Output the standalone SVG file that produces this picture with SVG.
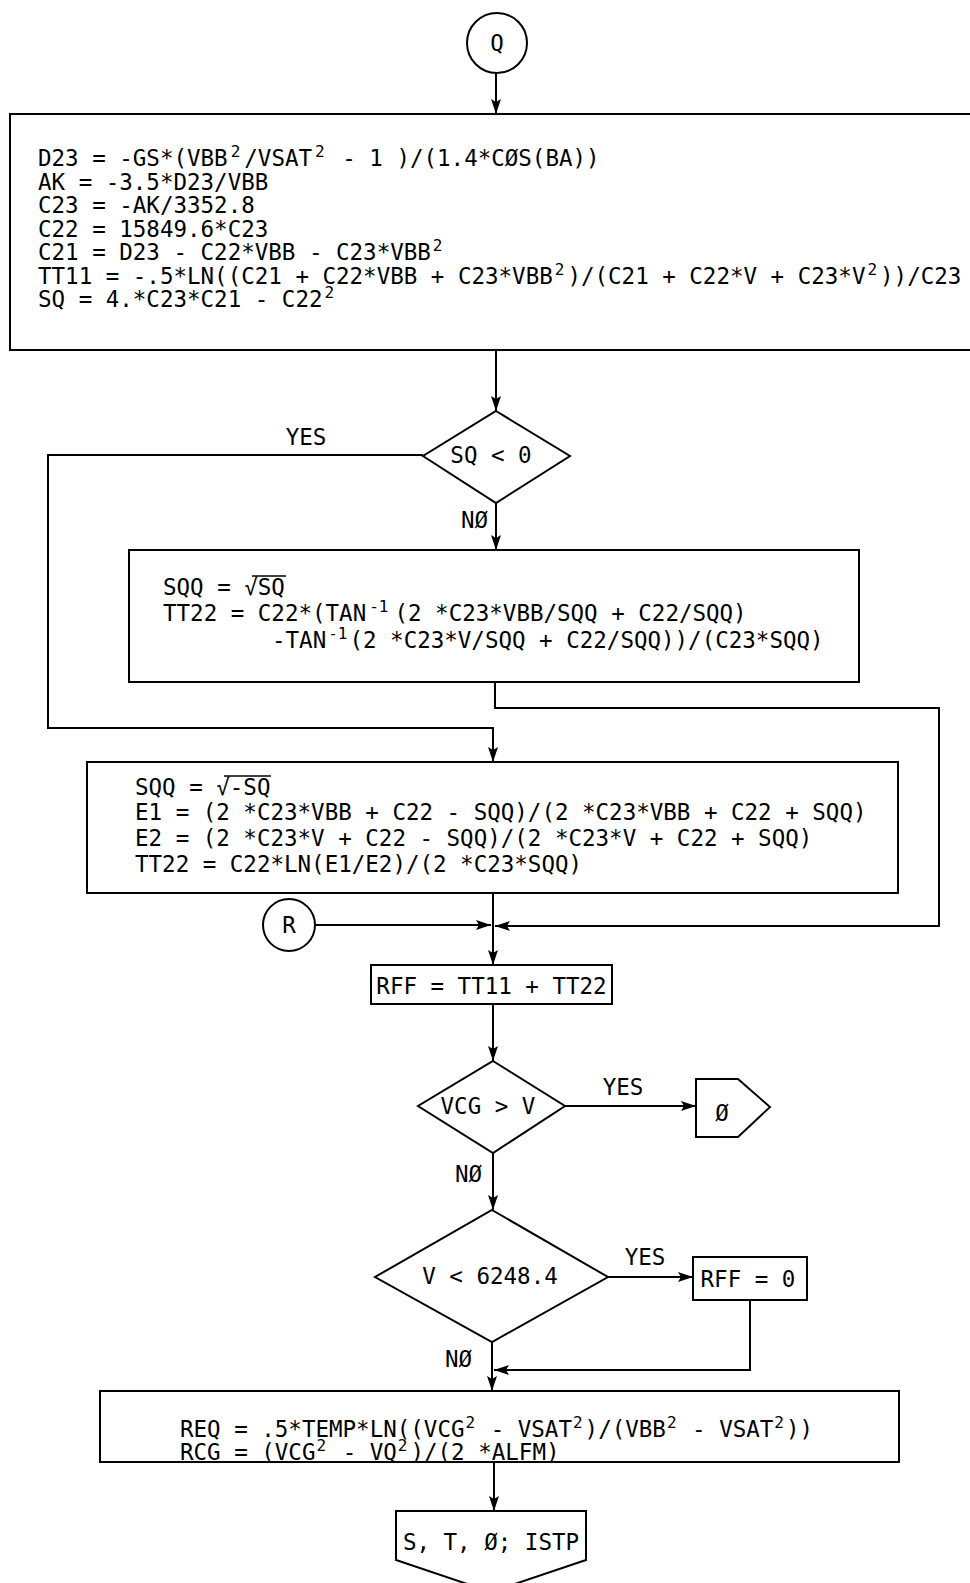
<svg xmlns="http://www.w3.org/2000/svg" width="970" height="1583" viewBox="0 0 970 1583">
<defs>
<style>
.sh{fill:#fff;stroke:#000;stroke-width:2}
.ln{fill:none;stroke:#000;stroke-width:2}
.ol{stroke:#000;stroke-width:1.6}
text{font-family:"DejaVu Sans Mono","Liberation Mono",monospace;font-size:22.5px;fill:#000;white-space:pre}
.s{font-size:16px}
.m{text-anchor:middle}
</style>
<marker id="ah" markerUnits="userSpaceOnUse" markerWidth="16" markerHeight="12" refX="15" refY="5" orient="auto">
<path d="M0,0 L15,5 L0,10 L3,5 z" fill="#000"/>
</marker>
</defs>
<rect width="970" height="1583" fill="#fff"/>

<g id="connectors" class="ln" marker-end="url(#ah)">
<path d="M496,73 V114"/>
<path d="M496,350 V411"/>
<path d="M423,455 H48 V728 H493 V762"/>
<path d="M496,503 V550"/>
<path d="M495,682 V708 H939 V926 H495"/>
<path d="M315,925 H491"/>
<path d="M493,893 V965"/>
<path d="M493,1004 V1061"/>
<path d="M565,1106 H696"/>
<path d="M493,1153 V1210"/>
<path d="M608,1277 H693"/>
<path d="M750,1300 V1370 H494"/>
<path d="M492,1342 V1391"/>
<path d="M494,1462 V1511"/>
</g>

<g id="labels">
<text class="m" x="306" y="445">YES</text>
<text x="461" y="528">NØ</text>
<text class="m" x="623" y="1095">YES</text>
<text x="455" y="1182">NØ</text>
<text class="m" x="645" y="1265">YES</text>
<text x="445" y="1367">NØ</text>
</g>

<g id="nQ">
<circle class="sh" cx="497" cy="43" r="30"/>
<text class="m" x="497" y="51">Q</text>
</g>

<g id="nBox1">
<rect class="sh" x="10" y="114" width="980" height="236"/>
<text x="38" y="166">D23 = -GS*(VBB<tspan class="s" dx="3" dy="-9">2</tspan><tspan dx="4" dy="9">/VSAT</tspan><tspan class="s" dx="3" dy="-9">2</tspan><tspan dx="4" dy="9"> - 1 )/(1.4*CØS(BA))</tspan></text>
<text x="38" y="189.5">AK = -3.5*D23/VBB</text>
<text x="38" y="213">C23 = -AK/3352.8</text>
<text x="38" y="236.5">C22 = 15849.6*C23</text>
<text x="38" y="260">C21 = D23 - C22*VBB - C23*VBB<tspan class="s" dx="2" dy="-9">2</tspan></text>
<text x="38" y="283.5">TT11 = -.5*LN((C21 + C22*VBB + C23*VBB<tspan class="s" dx="2" dy="-9">2</tspan><tspan dx="3" dy="9">)/(C21 + C22*V + C23*V</tspan><tspan class="s" dx="2" dy="-9">2</tspan><tspan dx="3" dy="9">))/C23</tspan></text>
<text x="38" y="307">SQ = 4.*C23*C21 - C22<tspan class="s" dx="2" dy="-9">2</tspan></text>
</g>

<g id="nDecSQ">
<polygon class="sh" points="496,411 570,456 496,503 423,456"/>
<text class="m" x="491" y="463">SQ &lt; 0</text>
</g>

<g id="nBoxSQQ">
<rect class="sh" x="129" y="550" width="730" height="132"/>
<text x="163" y="595">SQQ = √SQ</text>
<line class="ol" x1="252" y1="576" x2="286" y2="576"/>
<text x="163" y="621">TT22 = C22*(TAN<tspan class="s" dx="3" dy="-9">-1</tspan><tspan dx="6" dy="9">(2 *C23*VBB/SQQ + C22/SQQ)</tspan></text>
<text x="272" y="648">-TAN<tspan class="s" dx="2" dy="-9">-1</tspan><tspan dx="2" dy="9">(2 *C23*V/SQQ + C22/SQQ))/(C23*SQQ)</tspan></text>
</g>

<g id="nBoxE">
<rect class="sh" x="87" y="762" width="811" height="131"/>
<text x="135" y="795">SQQ = √-SQ</text>
<line class="ol" x1="224" y1="776" x2="271" y2="776"/>
<text x="135" y="820">E1 = (2 *C23*VBB + C22 - SQQ)/(2 *C23*VBB + C22 + SQQ)</text>
<text x="135" y="846">E2 = (2 *C23*V + C22 - SQQ)/(2 *C23*V + C22 + SQQ)</text>
<text x="135" y="872">TT22 = C22*LN(E1/E2)/(2 *C23*SQQ)</text>
</g>

<g id="nR">
<circle class="sh" cx="289" cy="925" r="26"/>
<text class="m" x="289" y="933">R</text>
</g>

<g id="nRFF">
<rect class="sh" x="371" y="965" width="241" height="39"/>
<text class="m" x="491.5" y="994">RFF = TT11 + TT22</text>
</g>

<g id="nDecVCG">
<polygon class="sh" points="493,1061 565,1106 493,1153 418,1106"/>
<text class="m" x="488" y="1114">VCG &gt; V</text>
</g>

<g id="nOff0">
<polygon class="sh" points="696,1079 738,1079 770,1107 738,1137 696,1137"/>
<text class="m" x="722" y="1121">Ø</text>
</g>

<g id="nDecV">
<polygon class="sh" points="492,1210 608,1277 492,1342 375,1277"/>
<text class="m" x="490" y="1284">V &lt; 6248.4</text>
</g>

<g id="nRFF0">
<rect class="sh" x="693" y="1257" width="114" height="43"/>
<text class="m" x="748" y="1287">RFF = 0</text>
</g>

<g id="nREQ">
<rect class="sh" x="100" y="1391" width="799" height="71"/>
<text x="180" y="1437">REQ = .5*TEMP*LN((VCG<tspan class="s" dx="1" dy="-9">2</tspan><tspan dx="2" dy="9"> - VSAT</tspan><tspan class="s" dx="1" dy="-9">2</tspan><tspan dx="2" dy="9">)/(VBB</tspan><tspan class="s" dx="1" dy="-9">2</tspan><tspan dx="2" dy="9"> - VSAT</tspan><tspan class="s" dx="1" dy="-9">2</tspan><tspan dx="2" dy="9">))</tspan></text>
<text x="180" y="1460">RCG = (VCG<tspan class="s" dx="1" dy="-9">2</tspan><tspan dx="3" dy="9"> - VQ</tspan><tspan class="s" dx="1" dy="-9">2</tspan><tspan dx="3" dy="9">)/(2 *ALFM)</tspan></text>
</g>

<g id="nOut">
<polygon class="sh" points="396,1511 586,1511 586,1560 491,1592 396,1560"/>
<text class="m" x="491" y="1550">S, T, Ø; ISTP</text>
</g>
</svg>
